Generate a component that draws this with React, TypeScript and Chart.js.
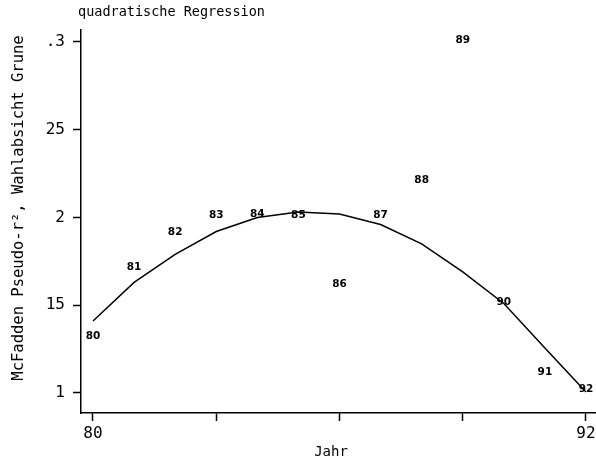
import { useEffect, useRef } from "react";
import { Chart, registerables } from "chart.js";

Chart.register(...registerables);

const years = [80, 81, 82, 83, 84, 85, 86, 87, 88, 89, 90, 91, 92];
const observed = [0.1325, 0.1718, 0.1917, 0.2014, 0.2017, 0.2014, 0.1621, 0.2014, 0.2214, 0.3011, 0.1518, 0.112, 0.1023];
const fitted = [0.141, 0.163, 0.179, 0.192, 0.2, 0.2031, 0.202, 0.196, 0.185, 0.169, 0.151, 0.1256, 0.1006];
const pointLabels = ["80", "81", "82", "83", "84", "85", "86", "87", "88", "89", "90", "91", "92"];
const xTicks = [80, 83, 86, 89, 92];
const xTickLabels = ["80", "", "", "", "92"];
const yTicks = [0.1, 0.15, 0.2, 0.25, 0.3];
const yTickLabels = ["1", "15", "2", "25", ".3"];
const titleText = "quadratische Regression";
const xTitle = "Jahr";
const yTitle = "McFadden Pseudo-r², Wahlabsicht Grune";

const MONO = "'DejaVu Sans Mono', monospace";

const textPlugin = {
  id: "textPlugin",
  afterDatasetsDraw(chart: any) {
    const ctx = chart.ctx;
    const meta = chart.getDatasetMeta(1);
    ctx.save();
    ctx.fillStyle = "#000";
    ctx.font = "bold 10.5px 'DejaVu Sans', sans-serif";
    ctx.textAlign = "center";
    ctx.textBaseline = "middle";
    meta.data.forEach((el: any, i: number) => {
      ctx.fillText(pointLabels[i], el.x, el.y);
    });
    ctx.restore();
  },
  afterDraw(chart: any) {
    const ctx = chart.ctx;
    const area = chart.chartArea;
    ctx.save();
    ctx.fillStyle = "#000";
    ctx.font = `13.5px ${MONO}`;
    ctx.textAlign = "left";
    ctx.textBaseline = "middle";
    ctx.fillText(titleText, area.left - 3, 12);
    ctx.textAlign = "center";
    ctx.font = `14px ${MONO}`;
    ctx.fillText(xTitle, 331, 452);
    ctx.translate(19, 208);
    ctx.rotate(-Math.PI / 2);
    ctx.font = `15.5px ${MONO}`;
    ctx.fillText(yTitle, 0, 0);
    ctx.restore();
  },
};

export default function App() {
  const ref = useRef<HTMLCanvasElement | null>(null);
  useEffect(() => {
    if (!ref.current) return;
    const chart = new Chart(ref.current, {
      type: "line",
      data: {
        datasets: [
          {
            type: "line",
            data: years.map((x, i) => ({ x, y: fitted[i] })),
            borderColor: "#000",
            borderWidth: 1.5,
            pointRadius: 0,
            fill: false,
            tension: 0,
          },
          {
            type: "scatter",
            data: years.map((x, i) => ({ x, y: observed[i] })),
            pointRadius: 0,
            showLine: false,
          },
        ],
      },
      options: {
        responsive: false,
        animation: false,
        events: [],
        layout: { padding: { top: 30, right: 0, left: 0, bottom: 0 } },
        plugins: { legend: { display: false }, tooltip: { enabled: false }, title: { display: false } },
        scales: {
          x: {
            type: "linear",
            min: 79.708,
            max: 92.244,
            afterBuildTicks: (s: any) => {
              s.ticks = xTicks.map((v) => ({ value: v }));
            },
            afterFit: (s: any) => {
              s.height = 53;
              s.paddingLeft = 0;
              s.paddingRight = 0;
            },
            ticks: {
              autoSkip: false,
              maxRotation: 0,
              color: "#000",
              padding: 3,
              font: { family: MONO, size: 16 },
              callback: (v: any) => xTickLabels[xTicks.indexOf(Number(v))] ?? "",
            },
            grid: { drawOnChartArea: false, color: "#000", tickLength: 8, tickWidth: 1.5 },
            border: { color: "#000", width: 1.5 },
          },
          y: {
            type: "linear",
            min: 0.0886,
            max: 0.3068,
            afterBuildTicks: (s: any) => {
              s.ticks = yTicks.map((v) => ({ value: v }));
            },
            afterFit: (s: any) => {
              s.width = 81;
              s.paddingTop = 0;
              s.paddingBottom = 0;
            },
            ticks: {
              color: "#000",
              padding: 8,
              font: { family: MONO, size: 16 },
              callback: (v: any) => {
                const i = yTicks.findIndex((t) => Math.abs(t - Number(v)) < 1e-6);
                return i >= 0 ? yTickLabels[i] : "";
              },
            },
            grid: { drawOnChartArea: false, color: "#000", tickLength: 8, tickWidth: 1.5 },
            border: { color: "#000", width: 1.5 },
          },
        },
      } as any,
      plugins: [textPlugin],
    });
    return () => chart.destroy();
  }, []);
  return (
    <div style={{ position: "fixed", left: 0, top: 0, width: 596, height: 466, background: "#fff" }}>
      <canvas ref={ref} width={596} height={466} style={{ display: "block" }} />
    </div>
  );
}
